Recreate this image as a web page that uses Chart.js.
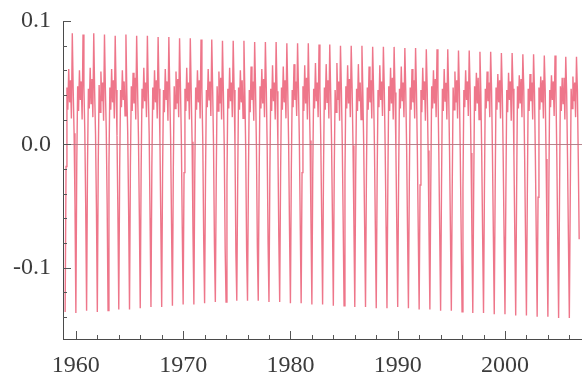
<!DOCTYPE html>
<html lang="en">
<head>
  <meta charset="UTF-8">
  <title>Seasonal component</title>
  <script src="https://cdn.jsdelivr.net/npm/chart.js"></script>
  <style>
    html, body { margin: 0; padding: 0; background: #fff; }
    #wrap { width: 582px; height: 372px; }
  </style>
</head>
<body>
  <div id="wrap"><canvas id="seasonChart"></canvas></div>

  <script>
    // first year of the monthly series, one row per year (Jan..Dec)
    const startYear = 1959;
    const monthlyValues = [
      [-0.136, -0.018, 0.046, 0.028, 0.061, 0.034, 0.052, 0.021, 0.090, 0.044, 0.009, -0.048],
      [-0.137, -0.016, 0.047, 0.027, 0.060, 0.036, 0.051, 0.020, 0.089, 0.046, 0.010, -0.050],
      [-0.135, -0.019, 0.045, 0.029, 0.062, 0.033, 0.053, 0.022, 0.090, 0.043, 0.008, -0.052],
      [-0.136, -0.017, 0.048, 0.026, 0.059, 0.035, 0.050, 0.019, 0.089, 0.045, 0.011, -0.049],
      [-0.135, -0.018, 0.046, 0.028, 0.061, 0.034, 0.052, 0.021, 0.088, 0.044, 0.007, -0.055],
      [-0.134, -0.020, 0.044, 0.030, 0.060, 0.036, 0.051, 0.023, 0.089, 0.042, 0.009, -0.053],
      [-0.134, -0.018, 0.047, 0.027, 0.058, 0.033, 0.054, 0.020, 0.088, 0.046, 0.006, -0.058],
      [-0.133, -0.021, 0.045, 0.029, 0.062, 0.035, 0.050, 0.022, 0.088, 0.043, 0.008, -0.060],
      [-0.132, -0.019, 0.046, 0.028, 0.060, 0.034, 0.052, 0.021, 0.087, 0.045, 0.005, -0.062],
      [-0.132, -0.022, 0.044, 0.026, 0.061, 0.036, 0.051, 0.019, 0.087, 0.044, 0.004, -0.065],
      [-0.131, -0.020, 0.047, 0.029, 0.059, 0.033, 0.053, 0.022, 0.086, 0.046, 0.003, -0.068],
      [-0.130, -0.023, 0.045, 0.027, 0.062, 0.035, 0.050, 0.020, 0.086, 0.043, 0.002, -0.072],
      [-0.130, -0.025, 0.046, 0.028, 0.060, 0.034, 0.052, 0.021, 0.085, 0.044, 0.000, -0.078],
      [-0.129, -0.028, 0.044, 0.030, 0.061, 0.036, 0.051, 0.023, 0.085, 0.045, -0.002, -0.082],
      [-0.128, -0.030, 0.047, 0.027, 0.059, 0.033, 0.054, 0.020, 0.084, 0.042, -0.004, -0.085],
      [-0.128, -0.032, 0.045, 0.029, 0.062, 0.035, 0.050, 0.022, 0.084, 0.044, -0.003, -0.088],
      [-0.127, -0.031, 0.046, 0.028, 0.060, 0.034, 0.052, 0.021, 0.084, 0.043, -0.005, -0.086],
      [-0.127, -0.029, 0.044, 0.026, 0.063, 0.036, 0.051, 0.019, 0.083, 0.045, -0.004, -0.083],
      [-0.127, -0.027, 0.047, 0.029, 0.061, 0.033, 0.053, 0.022, 0.083, 0.046, -0.002, -0.080],
      [-0.128, -0.025, 0.045, 0.027, 0.064, 0.035, 0.050, 0.020, 0.083, 0.043, -0.001, -0.075],
      [-0.128, -0.024, 0.046, 0.028, 0.063, 0.034, 0.052, 0.021, 0.082, 0.044, 0.000, -0.070],
      [-0.129, -0.022, 0.044, 0.030, 0.065, 0.036, 0.051, 0.023, 0.082, 0.045, 0.002, -0.066],
      [-0.129, -0.023, 0.047, 0.027, 0.064, 0.033, 0.054, 0.020, 0.082, 0.042, 0.003, -0.064],
      [-0.130, -0.021, 0.045, 0.029, 0.066, 0.035, 0.050, 0.022, 0.081, 0.044, 0.001, -0.062],
      [-0.130, -0.022, 0.046, 0.028, 0.065, 0.034, 0.052, 0.021, 0.081, 0.043, 0.002, -0.060],
      [-0.131, -0.024, 0.044, 0.026, 0.066, 0.036, 0.051, 0.019, 0.080, 0.045, 0.000, -0.062],
      [-0.131, -0.025, 0.047, 0.029, 0.064, 0.033, 0.053, 0.022, 0.080, 0.046, -0.001, -0.064],
      [-0.132, -0.026, 0.045, 0.027, 0.065, 0.035, 0.050, 0.020, 0.080, 0.043, -0.002, -0.066],
      [-0.132, -0.027, 0.046, 0.028, 0.063, 0.034, 0.052, 0.021, 0.079, 0.044, -0.003, -0.068],
      [-0.133, -0.028, 0.044, 0.030, 0.064, 0.036, 0.051, 0.023, 0.079, 0.045, -0.004, -0.067],
      [-0.133, -0.030, 0.047, 0.027, 0.062, 0.033, 0.054, 0.020, 0.079, 0.042, -0.005, -0.069],
      [-0.132, -0.031, 0.045, 0.029, 0.063, 0.035, 0.050, 0.022, 0.078, 0.044, -0.004, -0.070],
      [-0.133, -0.032, 0.046, 0.028, 0.061, 0.034, 0.052, 0.021, 0.078, 0.043, -0.006, -0.071],
      [-0.134, -0.033, 0.044, 0.026, 0.062, 0.036, 0.051, 0.019, 0.077, 0.045, -0.005, -0.070],
      [-0.134, -0.034, 0.047, 0.029, 0.060, 0.033, 0.053, 0.022, 0.077, 0.046, -0.007, -0.072],
      [-0.135, -0.035, 0.045, 0.027, 0.061, 0.035, 0.050, 0.020, 0.077, 0.043, -0.006, -0.071],
      [-0.135, -0.036, 0.046, 0.028, 0.059, 0.034, 0.052, 0.021, 0.076, 0.044, -0.008, -0.073],
      [-0.136, -0.036, 0.044, 0.030, 0.060, 0.036, 0.051, 0.023, 0.076, 0.045, -0.007, -0.072],
      [-0.137, -0.037, 0.047, 0.027, 0.058, 0.033, 0.054, 0.020, 0.075, 0.042, -0.009, -0.074],
      [-0.137, -0.038, 0.045, 0.029, 0.059, 0.035, 0.050, 0.022, 0.075, 0.044, -0.008, -0.073],
      [-0.138, -0.039, 0.046, 0.028, 0.057, 0.034, 0.052, 0.021, 0.074, 0.043, -0.010, -0.075],
      [-0.138, -0.040, 0.044, 0.026, 0.058, 0.036, 0.051, 0.019, 0.074, 0.045, -0.009, -0.074],
      [-0.139, -0.041, 0.047, 0.029, 0.056, 0.033, 0.053, 0.022, 0.073, 0.046, -0.011, -0.076],
      [-0.139, -0.042, 0.045, 0.027, 0.057, 0.035, 0.050, 0.020, 0.073, 0.043, -0.010, -0.075],
      [-0.140, -0.043, 0.046, 0.028, 0.055, 0.034, 0.052, 0.021, 0.072, 0.044, -0.012, -0.077],
      [-0.140, -0.044, 0.044, 0.030, 0.056, 0.036, 0.051, 0.023, 0.072, 0.045, -0.011, -0.076],
      [-0.141, -0.045, 0.047, 0.027, 0.054, 0.033, 0.054, 0.020, 0.071, 0.042, -0.013, -0.078],
      [-0.141, -0.045, 0.045, 0.029, 0.055, 0.035, 0.050, 0.022, 0.071, 0.044, -0.012, -0.077]
    ];

    // axis ticks
    const xTicks = [1960, 1962, 1964, 1966, 1968, 1970, 1972, 1974, 1976, 1978, 1980, 1982, 1984,
      1986, 1988, 1990, 1992, 1994, 1996, 1998, 2000, 2002, 2004, 2006];
    const xLabelYears = [1960, 1970, 1980, 1990, 2000];
    const yTicks = [-0.14, -0.12, -0.1, -0.08, -0.06, -0.04, -0.02, 0, 0.02, 0.04, 0.06, 0.08, 0.1];
    const yLabelValues = [-0.1, 0, 0.1];
    const yLabelText = ['-0.1', '0.0', '0.1'];

    // build points: x = year + month/12
    const points = [];
    monthlyValues.forEach((row, i) => {
      row.forEach((v, m) => points.push({ x: startYear + i + m / 12, y: v }));
    });

    function yLabel(v) {
      const k = yLabelValues.findIndex(t => Math.abs(t - v) < 1e-9);
      return k === -1 ? '' : yLabelText[k];
    }

    // inward tick marks + zero line
    const axisDecor = {
      id: 'axisDecor',
      afterDatasetsDraw(chart) {
        const { ctx, chartArea, scales } = chart;
        ctx.save();
        // zero line
        const y0 = Math.round(scales.y.getPixelForValue(0)) + 0.5;
        ctx.strokeStyle = 'rgba(175,120,130,0.9)';
        ctx.lineWidth = 1;
        ctx.beginPath();
        ctx.moveTo(chartArea.left, y0);
        ctx.lineTo(chartArea.right, y0);
        ctx.stroke();

        ctx.strokeStyle = '#555';
        ctx.beginPath();
        xTicks.forEach(v => {
          const px = Math.round(scales.x.getPixelForValue(v)) + 0.5;
          const len = xLabelYears.includes(v) ? 8 : 4;
          ctx.moveTo(px, chartArea.bottom);
          ctx.lineTo(px, chartArea.bottom - len);
        });
        yTicks.forEach(v => {
          const py = Math.round(scales.y.getPixelForValue(v)) + 0.5;
          const len = yLabel(v) ? 8 : 4;
          ctx.moveTo(chartArea.left, py);
          ctx.lineTo(chartArea.left + len, py);
        });
        ctx.stroke();
        ctx.restore();
      }
    };

    const labelFont = { family: "'Liberation Serif', 'DejaVu Serif', serif", size: 24 };

    new Chart(document.getElementById('seasonChart'), {
      type: 'line',
      data: {
        datasets: [{
          data: points,
          borderColor: 'rgb(238, 118, 138)',
          borderWidth: 1.4,
          pointRadius: 0,
          tension: 0,
          fill: false
        }]
      },
      options: {
        responsive: true,
        maintainAspectRatio: false,
        animation: false,
        events: [],
        layout: { padding: { top: 21, right: 0, left: 0, bottom: 0 } },
        plugins: { legend: { display: false }, tooltip: { enabled: false } },
        scales: {
          x: {
            type: 'linear',
            min: 1958.8,
            max: 2007.18,
            afterFit(scale) {
              scale.height = 33;
              scale.paddingLeft = 0;
              scale.paddingRight = 0;
            },
            afterBuildTicks(scale) { scale.ticks = xTicks.map(v => ({ value: v })); },
            grid: { display: false, drawTicks: false },
            border: { display: true, color: '#4a4a4a', width: 1 },
            ticks: {
              autoSkip: false,
              maxRotation: 0,
              padding: 12,
              color: '#3c3c3c',
              font: labelFont,
              callback: v => xLabelYears.includes(v) ? String(v) : ''
            }
          },
          y: {
            min: -0.158,
            max: 0.1,
            afterFit(scale) {
              scale.width = 63;
              scale.paddingTop = 0;
              scale.paddingBottom = 0;
            },
            afterBuildTicks(scale) { scale.ticks = yTicks.map(v => ({ value: v })); },
            grid: { display: false, drawTicks: false },
            border: { display: true, color: '#4a4a4a', width: 1 },
            ticks: {
              autoSkip: false,
              padding: 12,
              color: '#3c3c3c',
              font: labelFont,
              callback: v => yLabel(v)
            }
          }
        }
      },
      plugins: [axisDecor]
    });
  </script>
</body>
</html>
